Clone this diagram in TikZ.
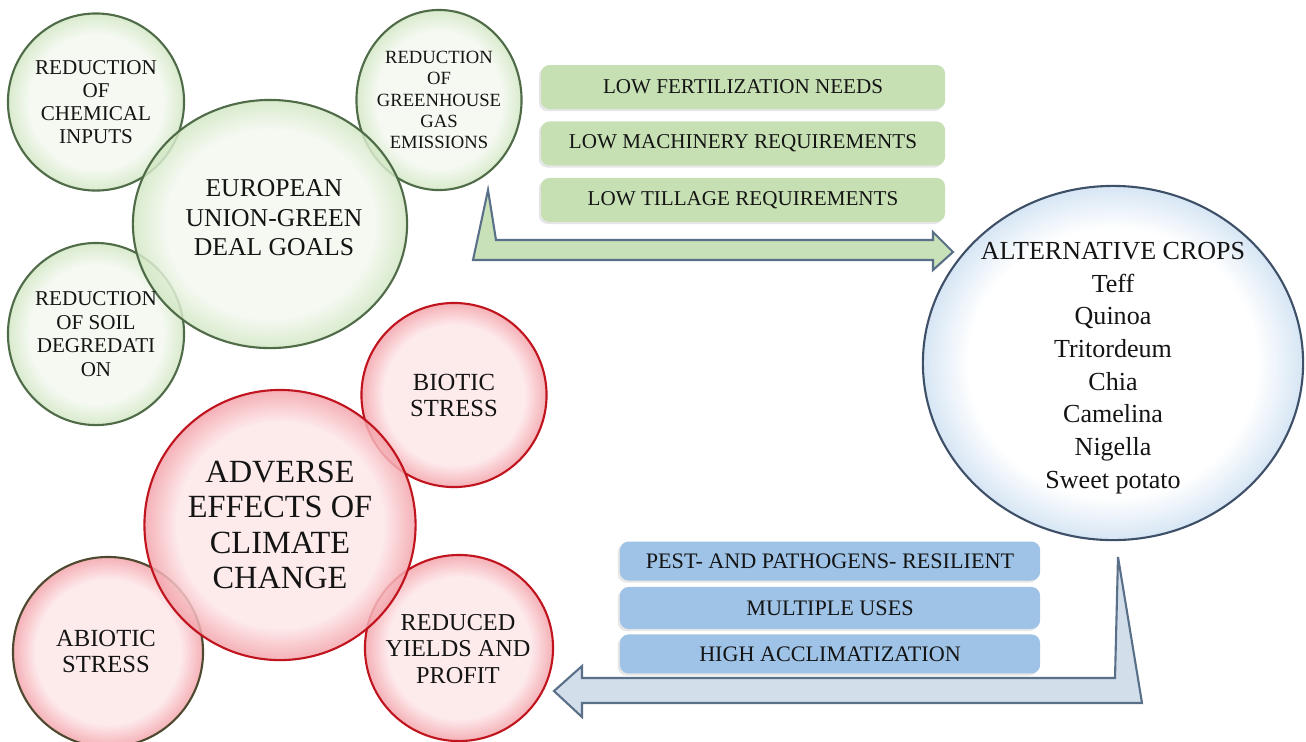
\documentclass[tikz,border=0pt]{standalone}
\usepackage{fontspec}
\setmainfont{Liberation Serif}
\usetikzlibrary{shapes.geometric,positioning,shadows}
\definecolor{gbin}{HTML}{F3F8EF}
\definecolor{gbout}{HTML}{D2E7C4}
\definecolor{gborder}{HTML}{4F6B48}
\definecolor{rbin}{HTML}{FDE7E9}
\definecolor{rbout}{HTML}{F3A3AA}
\definecolor{rborder}{HTML}{C0141E}
\definecolor{bbin}{HTML}{FFFFFF}
\definecolor{bbout}{HTML}{CFE1F2}
\definecolor{bborder}{HTML}{3E5068}
\definecolor{gboxfill}{HTML}{C6E0B4}
\definecolor{bboxfill}{HTML}{9EC3E7}
\definecolor{garrowfill}{HTML}{C8E1B8}
\definecolor{barrowfill}{HTML}{D2DEEA}
\definecolor{arrowline}{HTML}{5A7088}
\pgfdeclareradialshading{greenbubble}{\pgfpoint{0bp}{0bp}}{color(0bp)=(gbin); color(19bp)=(gbin); color(25bp)=(gbout); color(50bp)=(gbout)}
\pgfdeclareradialshading{redbubble}{\pgfpoint{0bp}{0bp}}{color(0bp)=(rbin); color(19bp)=(rbin); color(25bp)=(rbout); color(50bp)=(rbout)}
\pgfdeclareradialshading{bluebubble}{\pgfpoint{0bp}{0bp}}{color(0bp)=(bbin); color(19bp)=(bbin); color(25bp)=(bbout); color(50bp)=(bbout)}
\tikzset{
  every picture/.style={line join=round, line cap=round},
  bubble/.style={ellipse, inner sep=0pt, line width=0.6pt, shade, fill opacity=0.85},
  gbub/.style={bubble, draw=gborder, shading=greenbubble},
  rbub/.style={bubble, draw=rborder, shading=redbubble},
  bbub/.style={bubble, draw=bborder, shading=bluebubble},
  lbl/.style={align=center, inner sep=0pt, text=black!92},
  listbox/.style={rectangle, rounded corners=2.5pt, inner sep=0pt, text=black!92,
    drop shadow={shadow xshift=-0.6pt, shadow yshift=-0.6pt, opacity=0.2}},
  gbox/.style={listbox, fill=gboxfill, minimum width=4.04cm, minimum height=0.44cm,
    font=\fontsize{6}{7}\selectfont},
  bbox/.style={listbox, fill=bboxfill, minimum width=4.2cm, minimum height=0.39cm,
    font=\fontsize{6.3}{7}\selectfont},
  blockarrow/.style={draw=arrowline, line width=0.6pt, line join=miter},
}
\begin{document}
\begin{tikzpicture}[x=0.01cm,y=-0.01cm]
\useasboundingbox (0,0) rectangle (1306,741);

% green deal goals
\node[gbub, minimum width=1.76cm, minimum height=1.77cm] (chem) at (96,102) {};
\node[gbub, minimum width=1.65cm, minimum height=1.80cm] (ghg) at (439,100) {};
\node[gbub, minimum width=1.76cm, minimum height=1.82cm] (soil) at (96,334) {};
\node[gbub, minimum width=2.74cm, minimum height=2.48cm] (eu) at (270,224) {};
\node[lbl, font=\fontsize{6}{6.6}\selectfont] at (chem) {REDUCTION\\OF\\CHEMICAL\\INPUTS};
\node[lbl, font=\fontsize{5.3}{6}\selectfont] at (ghg) {REDUCTION\\OF\\GREENHOUSE\\GAS\\EMISSIONS};
\node[lbl, font=\fontsize{6}{6.7}\selectfont] at (soil) {REDUCTION\\OF SOIL\\DEGREDATI\\ON};
\node[lbl, font=\fontsize{7.3}{8.4}\selectfont] at (274,218) {EUROPEAN\\UNION-GREEN\\DEAL GOALS};

% climate change
\node[rbub, minimum width=1.85cm, minimum height=1.84cm] (biotic) at (454,395) {};
\node[rbub, draw=black!60!olive, minimum size=1.90cm] (abiotic) at (108,652) {};
\node[rbub, minimum width=1.88cm, minimum height=1.86cm] (yields) at (459,648) {};
\node[rbub, minimum width=2.71cm, minimum height=2.70cm] (climate) at (280,525) {};
\node[lbl, font=\fontsize{7}{7.4}\selectfont] at (biotic) {BIOTIC\\STRESS};
\node[lbl, font=\fontsize{7}{7.4}\selectfont] at (106,651) {ABIOTIC\\STRESS};
\node[lbl, font=\fontsize{6.9}{7.5}\selectfont] at (458,649) {REDUCED\\YIELDS AND\\PROFIT};
\node[lbl, font=\fontsize{9.2}{10}\selectfont] at (climate) {ADVERSE\\EFFECTS OF\\CLIMATE\\CHANGE};

% alternative crops
\node[bbub, minimum width=3.80cm, minimum height=3.54cm] (crops) at (1113,363) {};
\node[lbl, font=\fontsize{7.4}{9.3}\selectfont] at (1113,368)
  {ALTERNATIVE CROPS\\Teff\\Quinoa\\Tritordeum\\Chia\\Camelina\\Nigella\\Sweet potato};

% upper arrow and traits
\draw[blockarrow, fill=garrowfill] (488,190) -- (496,240) -- (933,240) -- (933,232)
  -- (953,252) -- (933,270) -- (933,260) -- (473,260) -- cycle;
\node[gbox] (fert) at (743,87) {LOW FERTILIZATION NEEDS};
\node[gbox, below=0.11cm of fert] (mach) {LOW MACHINERY REQUIREMENTS};
\node[gbox, below=0.11cm of mach] (till) {LOW TILLAGE REQUIREMENTS};

% lower arrow and traits
\draw[blockarrow, fill=barrowfill] (1118,557) -- (1142,703) -- (582,703) -- (582,717)
  -- (554,691) -- (582,666) -- (582,678) -- (1115,678) -- cycle;
\node[bbox] (pest) at (830,561) {PEST- AND PATHOGENS- RESILIENT};
\node[bbox, below=0.05cm of pest, minimum height=0.42cm] (uses) {MULTIPLE USES};
\node[bbox, below=0.04cm of uses] (accl) {HIGH ACCLIMATIZATION};
\end{tikzpicture}
\end{document}
